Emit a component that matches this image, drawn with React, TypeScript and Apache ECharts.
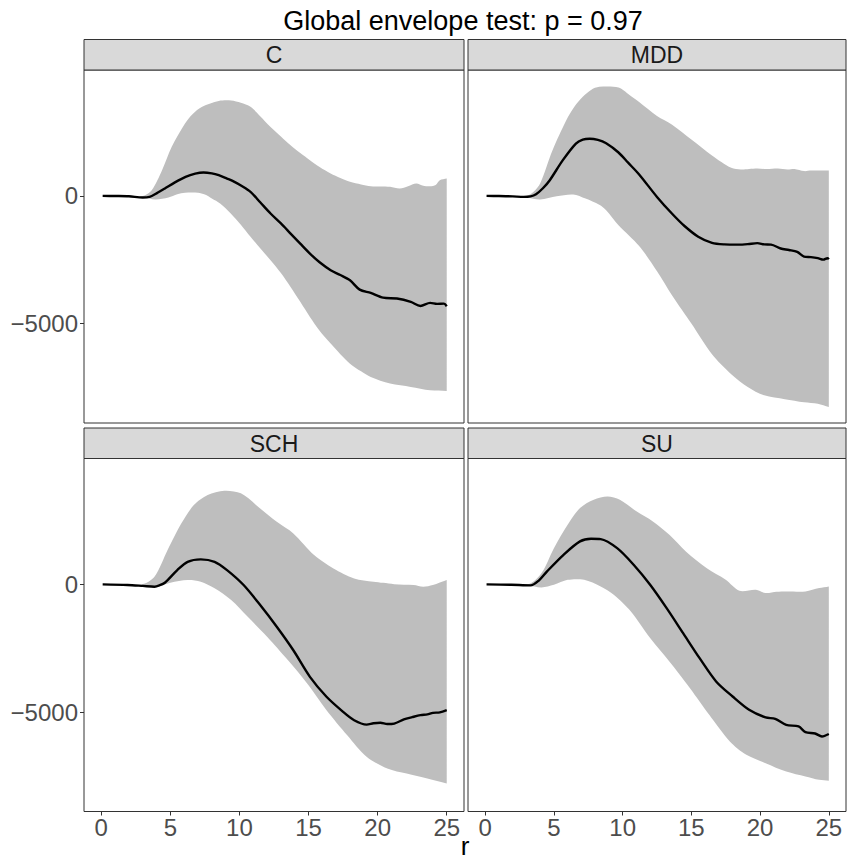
import React, { useEffect, useRef } from "react";
import * as echarts from "echarts";

const TITLE = "Global envelope test: p = 0.97";
const PANELS = ["C", "MDD", "SCH", "SU"];
const X_TICKS = [0, 5, 10, 15, 20, 25];
const Y_TICKS = [-5000, 0];
const X_LABEL = "r";

// C
const obsC = [[0.1,0],[1,-5],[2,-15],[3,-65],[3.5,-40],[4,100],[4.6,290],[5.3,520],[6.1,745],[6.8,870],[7.4,915],[8,880],[8.5,810],[9.1,680],[9.5,590],[10.2,380],[10.8,160],[11.5,-250],[12.25,-690],[13,-1080],[13.7,-1475],[14.4,-1870],[15.1,-2260],[15.8,-2600],[16.6,-2910],[17.3,-3100],[18,-3305],[18.7,-3670],[19.5,-3800],[20.4,-3985],[21.4,-4020],[22.4,-4150],[23.1,-4310],[23.8,-4190],[24.3,-4230],[24.8,-4220],[25,-4320]];
const upC = [[0,0],[3,0],[3.65,220],[4.4,1005],[5.1,1920],[6.06,2835],[6.6,3200],[7.3,3490],[8.5,3720],[9.4,3740],[10.1,3650],[10.8,3490],[11.5,3120],[12.25,2700],[13,2330],[13.7,1985],[14.4,1680],[15.1,1400],[15.8,1130],[16.6,875],[17.3,700],[18,550],[18.8,450],[19.5,380],[20.2,370],[20.9,355],[21.6,290],[22.2,380],[22.8,485],[23.3,400],[23.8,380],[24.2,430],[24.5,615],[25,680]];
const loC = [[0,0],[3,-30],[3.9,-145],[4.86,-65],[5.5,60],[6.06,120],[7,120],[7.5,50],[8,-105],[8.6,-300],[9.37,-690],[10.1,-1130],[10.8,-1605],[11.5,-2050],[12.25,-2520],[13,-3020],[13.7,-3565],[14.4,-4150],[15.1,-4740],[15.8,-5280],[16.6,-5785],[17.3,-6200],[18,-6570],[18.8,-6870],[19.5,-7090],[20.9,-7350],[22.4,-7480],[23.8,-7615],[25,-7640]];

// MDD
const obsM = [[0.1,0],[1,-5],[2,-20],[2.8,-40],[3.3,-20],[3.7,65],[4.2,300],[4.7,615],[5.65,1400],[6.6,2050],[7.1,2200],[7.6,2235],[8.2,2190],[8.8,2060],[9.7,1700],[10.4,1300],[11.2,840],[12.5,-40],[13.6,-700],[14.5,-1180],[15.5,-1600],[16.5,-1840],[17.4,-1900],[18.4,-1910],[19.1,-1890],[19.8,-1850],[20.3,-1900],[20.8,-1910],[21.5,-2060],[22.1,-2120],[22.7,-2195],[23.2,-2380],[23.7,-2400],[24.2,-2440],[24.6,-2495],[24.9,-2440],[25,-2480]];
const upM = [[0,0],[3,0],[3.5,150],[4,485],[4.9,1790],[5.9,2965],[6.5,3500],[7.1,3880],[7.7,4150],[8.3,4270],[9.7,4240],[10.5,3950],[11.2,3680],[12.5,3130],[13.6,2790],[15,2210],[16.5,1585],[17.9,1100],[18.6,1030],[19.2,1050],[19.8,1070],[20.5,1050],[21.3,1070],[22,1030],[22.5,1050],[23.2,970],[23.7,990],[24.2,990],[25,990]];
const loM = [[0,0],[3,-65],[4,-145],[5.2,-15],[6.4,55],[7.3,-105],[8.3,-350],[8.8,-560],[9.7,-1150],[11.2,-1960],[12.5,-2950],[13.6,-3900],[15,-5000],[16.5,-6200],[17.9,-6980],[19.1,-7480],[20.3,-7810],[21.8,-7960],[23.2,-8080],[24.2,-8140],[25,-8265]];

// SCH
const obsS = [[0.1,0],[1.9,-25],[3,-60],[3.85,-90],[4.2,-40],[4.6,65],[5.5,560],[6.25,885],[7.2,980],[8.2,885],[9.1,560],[10.3,-25],[11.5,-810],[12.7,-1660],[13.9,-2580],[15.1,-3620],[16.3,-4400],[17.5,-4990],[18.3,-5320],[19.2,-5490],[19.7,-5440],[20.2,-5420],[20.7,-5470],[21.2,-5450],[21.9,-5290],[22.5,-5200],[23.1,-5120],[23.6,-5090],[24,-5030],[24.5,-5010],[25,-4925]];
const upS = [[0,0],[2.9,0],[3.85,300],[4.8,1345],[5.8,2390],[6.7,3105],[7.7,3500],[8.9,3670],[10.1,3565],[11.5,2975],[12.7,2450],[13.9,1995],[15.4,1150],[16.8,625],[18.3,235],[19.7,105],[20.4,60],[21.2,10],[22.6,-25],[23.3,-90],[24,-25],[25,170]];
const loS = [[0,0],[2.9,-25],[3.85,-120],[5,65],[6.25,170],[7.2,105],[8.2,-155],[9.4,-615],[10.6,-1270],[12,-2050],[13.5,-2965],[14.9,-3880],[16.3,-4925],[17.8,-5905],[19.2,-6750],[20.7,-7210],[22.1,-7410],[23.6,-7600],[25,-7800]];

// SU
const obsU = [[0.1,0],[1.9,-15],[3.3,-40],[3.9,150],[4.5,510],[5.7,1160],[6.9,1685],[7.7,1790],[8.4,1775],[9.6,1420],[10.8,770],[12,-15],[13.2,-930],[14.4,-1910],[15.6,-2890],[16.8,-3800],[18,-4390],[19.2,-4910],[20.4,-5210],[21.1,-5265],[21.9,-5500],[22.8,-5565],[23.3,-5785],[24,-5840],[24.5,-5955],[25,-5860]];
const upU = [[0,0],[3.1,0],[4.1,445],[5,1420],[6,2335],[6.9,2990],[7.9,3315],[8.9,3445],[9.8,3315],[11,2860],[12.2,2465],[13.4,1945],[14.6,1290],[16.1,640],[17.5,180],[18.5,-250],[19.7,-210],[20.4,-340],[21.2,-290],[21.9,-275],[23.3,-275],[24.3,-145],[25,-80]];
const loU = [[0,0],[3.1,-40],[4.1,-120],[5,-15],[6,180],[7.2,180],[8.4,-80],[9.35,-405],[10.6,-1060],[12,-2100],[13.4,-3020],[14.9,-4065],[16.3,-5110],[17.8,-6150],[19,-6675],[20.4,-7000],[21.9,-7330],[23.3,-7525],[24.3,-7655],[25,-7690]];

const OBS = [obsC, obsM, obsS, obsU];
const UPPER = [upC, upM, upS, upU];
const LOWER = [loC, loM, loS, loU];

const FONT = "'Liberation Sans', Arial, sans-serif";

export default function App() {
  const ref = useRef<HTMLDivElement>(null);
  useEffect(() => {
    if (!ref.current) return;
    const chart = echarts.init(ref.current, undefined, { renderer: "svg" });
    const lefts = [84, 468, 84, 468];
    const widths = [380, 378, 380, 378];
    const tops = [70, 70, 458.5, 458.5];
    const H = 353;
    const grids = PANELS.map((_, i) => ({
      left: lefts[i], top: tops[i], width: widths[i], height: H,
      show: true, borderColor: "#333333", borderWidth: 1, backgroundColor: "#ffffff",
      containLabel: false,
    }));
    const xAxes = PANELS.map((_, i) => ({
      type: "value", gridIndex: i, min: -1.25, max: 26.25,
      axisLine: { show: false, onZero: false }, splitLine: { show: false },
      axisTick: { show: i >= 2, length: 4, lineStyle: { color: "#333333" }, customValues: X_TICKS },
      axisLabel: { show: i >= 2, customValues: X_TICKS, margin: 4, fontSize: 24, color: "#4d4d4d", fontFamily: FONT },
    }));
    const yAxes = PANELS.map((_, i) => ({
      type: "value", gridIndex: i, min: -8894, max: 4930,
      axisLine: { show: false, onZero: false }, splitLine: { show: false },
      axisTick: { show: i % 2 === 0, length: 4, lineStyle: { color: "#333333" }, customValues: Y_TICKS },
      axisLabel: {
        show: i % 2 === 0, customValues: Y_TICKS, margin: 6, fontSize: 24, color: "#4d4d4d", fontFamily: FONT,
        formatter: (v: number) => (v < 0 ? "\u2212" + Math.abs(v) : String(v)),
      },
    }));
    const series: any[] = [];
    PANELS.forEach((_, i) => {
      const up = UPPER[i];
      const lo = LOWER[i];
      series.push({
        type: "custom", xAxisIndex: i, yAxisIndex: i, silent: true, z: 1,
        data: [[0, 0]],
        renderItem: (_p: any, api: any) => {
          const u = up.map((d) => api.coord(d));
          const l = lo.slice().reverse().map((d) => api.coord(d));
          // duplicate the two right-edge corners so the smoothed outline keeps a straight vertical edge
          const pts = [...u, u[u.length - 1], l[0], ...l];
          return { type: "polygon", shape: { points: pts, smooth: 0.3 }, style: { fill: "#bebebe", stroke: "none" } };
        },
      });
      series.push({
        type: "line", xAxisIndex: i, yAxisIndex: i, z: 2, silent: true,
        data: OBS[i], showSymbol: false, symbol: "none", smooth: 0.3,
        lineStyle: { color: "#000000", width: 2.4 },
      });
    });
    const graphics: any[] = [];
    PANELS.forEach((name, i) => {
      const y0 = tops[i] - 30.5;
      graphics.push({
        type: "rect", shape: { x: lefts[i], y: y0, width: widths[i], height: 30.5 },
        style: { fill: "#d9d9d9", stroke: "#333333", lineWidth: 1 }, z: 5,
      });
      graphics.push({
        type: "text", x: lefts[i] + widths[i] / 2, y: y0 + 15.5, z: 6,
        style: { text: name, fontSize: 23, fill: "#1a1a1a", fontFamily: FONT, textAlign: "center", textVerticalAlign: "middle" },
      });
    });
    graphics.push({
      type: "text", x: 463, y: 20.5, z: 6,
      style: { text: TITLE, fontSize: 27, fill: "#000000", fontFamily: FONT, textAlign: "center", textVerticalAlign: "middle" },
    });
    graphics.push({
      type: "text", x: 465, y: 846, z: 6,
      style: { text: X_LABEL, fontSize: 26, lineHeight: 26, fill: "#000000", fontFamily: FONT, textAlign: "center", textVerticalAlign: "middle" },
    });
    chart.setOption({
      animation: false,
      backgroundColor: "#ffffff",
      grid: grids,
      xAxis: xAxes,
      yAxis: yAxes,
      series,
      graphic: graphics,
    });
    return () => chart.dispose();
  }, []);
  return <div ref={ref} style={{ position: "absolute", left: 0, top: 0, width: 847, height: 860 }} />;
}
